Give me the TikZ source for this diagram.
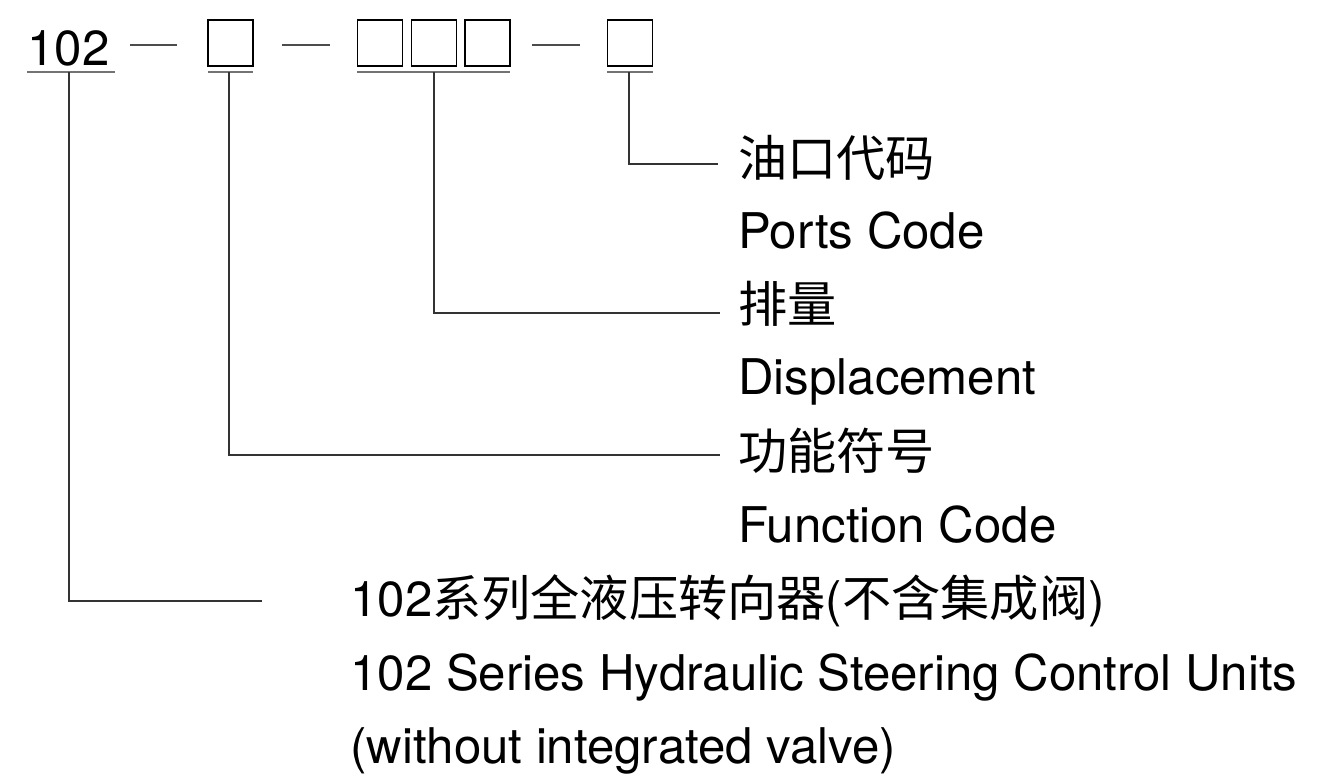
\documentclass[tikz,border=0pt]{standalone}
\usepackage{fontspec}
\setmainfont{TeX Gyre Heros}
\newfontfamily\zhfont{Noto Sans CJK SC}
\usetikzlibrary{positioning}

\begin{document}
\begin{tikzpicture}[x=0.02cm,y=-0.02cm]

\tikzset{lbl/.style = {anchor=base west, inner sep=0pt, font=\fontsize{28}{30}\selectfont}}
\tikzset{slot/.style = {draw, line width=1pt, inner sep=0pt, minimum width=0.9cm, minimum height=0.92cm}}
\tikzset{uline/.style = {line width=1.4pt, draw=black!55}}
\tikzset{lead/.style = {line width=1.1pt, draw=black!80}}
\useasboundingbox (0,0) rectangle (1335,779);

% code row
\node[lbl] (code) at (27,65) {102};
\node[slot] (f1) at (230.5,43) {};
\node[slot] (d1) at (380,43) {};
\node[slot] (d2) at (434,43) {};
\node[slot] (d3) at (487.5,43) {};
\node[slot] (p1) at (630,43) {};

% dashes
\draw[line width=1.2pt, black!70] (130,45) -- (177,45);
\draw[line width=1.2pt, black!70] (282,45) -- (330,45);
\draw[line width=1.2pt, black!70] (532,45) -- (580,45);

% underlines
\draw[uline] (27,72) -- (115,72);
\draw[uline] (208,72) -- (253,72);
\draw[uline] (357,72) -- (510,72);
\draw[uline] (607,72) -- (653,72);
\coordinate (u0) at (69,72);
\coordinate (u1) at (229,72);
\coordinate (u2) at (434,72);
\coordinate (u3) at (629,72);

% labels
\node[lbl] (oil) at (738,176) {\zhfont 油口代码};
\node[lbl] (ports) at (738,248) {Ports Code};
\node[lbl] (disp) at (738,322) {\zhfont 排量};
\node[lbl] (dispen) at (738,394) {Displacement};
\node[lbl] (func) at (738,469) {\zhfont 功能符号};
\node[lbl] (funcen) at (738,542) {Function Code};
\node[lbl] (ser) at (350,616) {102{\zhfont 系列全液压转向器}({\zhfont 不含集成阀})};
\node[lbl] (seren) at (350,690) {102 Series Hydraulic Steering Control Units};
\node[lbl] (seren2) at (350,763) {(without integrated valve)};

% leaders
\draw[lead] (u3) |- ([xshift=-0.4cm,yshift=-0.14cm]oil.west);
\draw[lead] (u2) |- ([xshift=-0.36cm,yshift=-0.2cm]disp.west);
\draw[lead] (u1) |- ([xshift=-0.36cm,yshift=-0.1cm]func.west);
\draw[lead] (u0) |- ([xshift=-1.76cm,yshift=-0.02cm]ser.west);

\end{tikzpicture}
\end{document}
